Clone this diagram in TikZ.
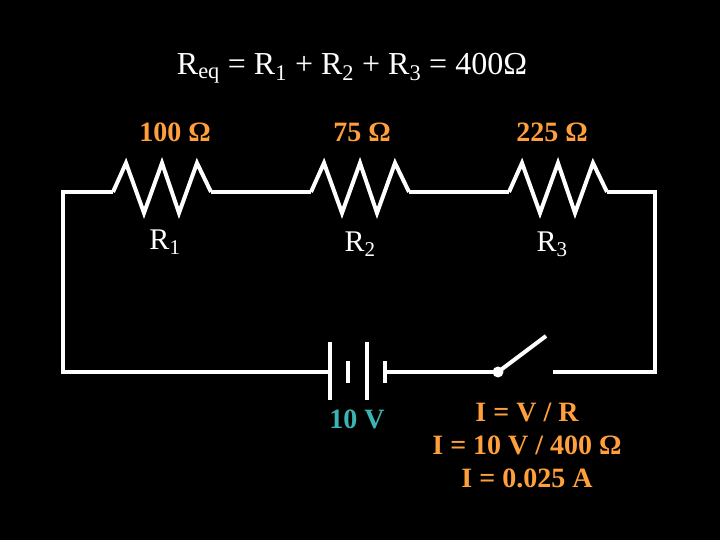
\documentclass[tikz,border=0pt]{standalone}
\usepackage{fontspec}
\setmainfont{Liberation Serif}
\definecolor{org}{RGB}{255,160,60}
\definecolor{teal2}{RGB}{60,180,180}
\begin{document}
\begin{tikzpicture}[x=1pt,y=-1pt,
  wire/.style={white,line width=4pt,line join=miter},
  lbl/.style={inner sep=0pt,font=\fontsize{30}{32}\selectfont}]
\fill[black] (0,0) rectangle (720,540);
\useasboundingbox (0,0) rectangle (720,540);
\coordinate (tl) at (63,192);
\coordinate (bl) at (63,372);
\coordinate (tr) at (655,192);
\coordinate (br) at (655,372);
\coordinate (r1a) at (113,192); \coordinate (r1b) at (211,192);
\coordinate (r2a) at (311,192); \coordinate (r2b) at (409,192);
\coordinate (r3a) at (509,192); \coordinate (r3b) at (607,192);
\coordinate (b1) at (330,372); \coordinate (b4) at (385,372);
\coordinate (sw) at (498,372); \coordinate (swe) at (546,336);
\coordinate (sc) at (553,372);
\foreach \s/\a/\b in {1/113/211,2/311/409,3/509/607}{
  \draw[wire] (\a,192) -- (\a+13,163) -- (\a+31,213) -- (\a+49,163) -- (\a+66,213) -- (\a+84,163) -- (\b,192);
}
\draw[wire] (r1a) -- (tl) -- (bl) -- (b1);
\draw[wire] (r1b) -- (r2a);
\draw[wire] (r2b) -- (r3a);
\draw[wire] (r3b) -- (tr) -- (br) -- (sc);
\draw[wire] (b4) -- (sw);
\draw[wire] (330,342) -- (330,400);
\draw[wire] (348,361) -- (348,383);
\draw[wire] (367,342) -- (367,400);
\draw[wire] (385,361) -- (385,383);
\draw[wire] (sw) -- (swe);
\fill[white] (sw) circle (5.5);
\node[lbl,white,font=\fontsize{32}{34}\selectfont] (title) at (352,68) {R\textsubscript{eq} = R\textsubscript{1} + R\textsubscript{2} + R\textsubscript{3} = 400Ω};
\node[lbl,org,font=\bfseries\fontsize{28}{30}\selectfont] (l1) at (175,132) {100 Ω};
\node[lbl,org,font=\bfseries\fontsize{28}{30}\selectfont] (l2) at (362,132) {75 Ω};
\node[lbl,org,font=\bfseries\fontsize{28}{30}\selectfont] (l3) at (552,132) {225 Ω};
\node[lbl,white] (n1) at (165,242) {R\textsubscript{1}};
\node[lbl,white] (n2) at (360,244) {R\textsubscript{2}};
\node[lbl,white] (n3) at (552,244) {R\textsubscript{3}};
\node[lbl,teal2,font=\bfseries\fontsize{28}{30}\selectfont] (v) at (357,419) {10 V};
\node[lbl,org,font=\bfseries\fontsize{28}{33}\selectfont,align=center] (ohm) at (527,445) {I = V / R\\I = 10 V / 400 Ω\\I = 0.025 A};
\end{tikzpicture}
\end{document}
